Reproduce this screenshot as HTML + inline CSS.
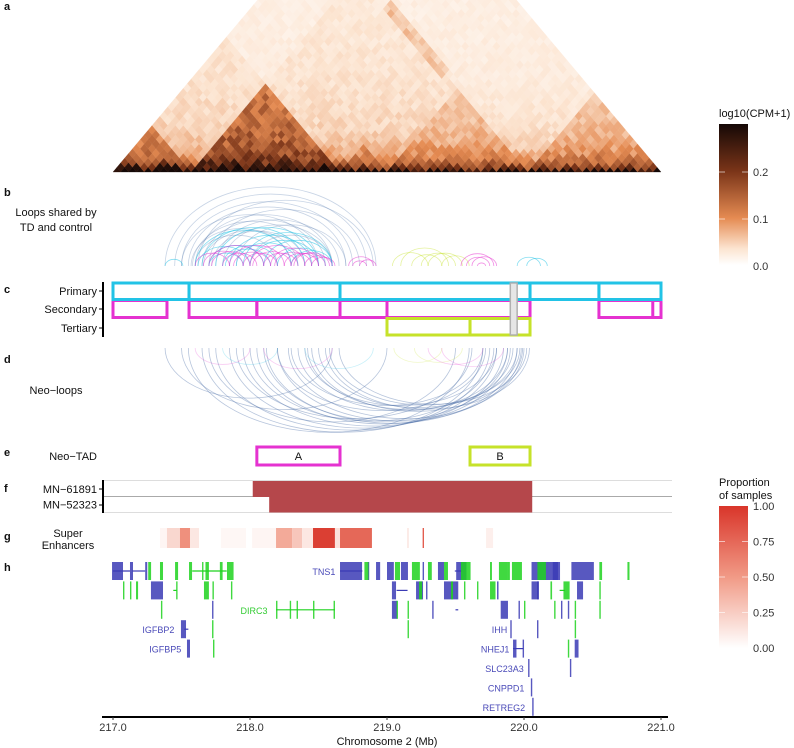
<!DOCTYPE html>
<html><head><meta charset="utf-8"><style>
body{margin:0;background:#fff;}
svg{display:block;font-family:"Liberation Sans",Arial,sans-serif;}
</style></head><body>
<svg id="fig" width="794" height="748" viewBox="0 0 794 748"></svg>
<script>
// ---------- data ----------
const axisTicks=[217,218,219,220,221];
const tickLabels=["217.0","218.0","219.0","220.0","221.0"];
const nBins=70;
const domainStart=[217.0,217.55,218.65,219.0,220.05,217.0,217.55];
const domainEnd  =[217.55,218.65,219.0,220.05,221.0,218.65,220.05];
const domainBoost=[0.06,0.085,0.03,0.02,0.03,0.012,0.01];
const stripeAnchor=[220.03];const stripeFrom=[218.0];const stripeTo=[218.85];const stripeBoost=[0.03];
// loops shared (b): start, end (Mb), category
const loopStart=[217.38,217.45,217.5,217.55,217.6,217.62,217.7,217.5,217.58,217.65,217.75,217.8,217.57,217.9,218.0,217.6,217.66,217.72,
 217.6,217.65,217.7,217.75,217.8,217.85,217.9,217.95,218.0,218.1,218.2,217.62,217.7,217.82,218.3,217.38,
 217.6,217.66,217.72,217.8,217.88,217.95,218.02,218.1,218.18,218.25,218.32,218.4,218.45,217.7,217.85,218.0,218.15,218.3,218.72,218.75,218.8,
 219.04,219.1,219.18,219.25,219.3,219.4,
 219.54,219.58,219.62,219.66,
 219.95,220.02];
const loopEnd=[218.92,218.85,218.75,218.7,218.6,218.9,218.8,218.5,218.45,218.55,218.65,218.6,218.3,218.7,218.6,218.2,218.35,218.4,
 218.3,218.4,218.1,218.5,218.2,218.45,218.35,218.6,218.5,218.6,218.55,218.0,217.95,218.15,218.6,217.51,
 217.85,217.95,218.0,218.05,218.15,218.2,218.3,218.35,218.45,218.5,218.58,218.6,218.62,218.1,218.25,218.4,218.5,218.55,218.9,218.85,218.92,
 219.3,219.45,219.4,219.5,219.55,219.6,
 219.78,219.75,219.8,219.72,
 220.12,220.17];
const loopCat=["b","b","b","b","b","b","b","b","b","b","b","b","b","b","b","b","b","b",
 "c","c","c","c","c","c","c","c","c","c","c","c","c","c","c","c",
 "m","m","m","m","m","m","m","m","m","m","m","m","m","m","m","m","m","m","m","m","m",
 "l","l","l","l","l","l",
 "m","m","m","m",
 "c","c"];
// neo-loops (d)
const neoStart=[217.38,217.5,217.55,217.65,217.75,217.85,217.95,218.05,218.12,218.2,218.28,218.35,218.42,218.5,218.58,218.65,218.3,218.4,218.1,218.0,217.7,217.9,218.45,218.55,218.2,
 217.6,217.8,218.1,218.4,219.05,219.2,219.3,219.4];
const neoEnd=[218.6,219.0,219.6,219.7,219.75,219.8,219.85,219.9,219.95,219.98,220.0,219.88,219.92,219.95,219.97,220.02,219.7,219.8,219.88,219.78,219.5,219.62,219.99,220.04,219.72,
 218.0,218.2,218.6,218.9,219.4,219.55,219.7,219.85];
const neoCat=["b","b","b","b","b","b","b","b","b","b","b","b","b","b","b","b","b","b","b","b","b","b","b","b","b",
 "m","c","m","c","l","l","m","m"];
// TAD tiers (c)
const primaryB=[217.0,217.555,218.657,220.044,220.547,221.0];
const secondaryS=[217.0,217.555,218.05,218.657,219.0,220.547,220.94];
const secondaryE=[217.394,218.05,218.657,219.0,220.044,221.0,221.0];
const tertiaryB=[219.0,219.606,220.044];
const greyBand=[219.9,219.95];
const neoTadStart=[218.05,219.606];const neoTadEnd=[218.657,220.044];const neoTadName=["A","B"];const neoTadCat=["m","l"];
const svStart=[218.02,218.14];const svEnd=[220.06,220.06];const svName=["MN\u221261891","MN\u221252323"];
// super enhancers (g)
const seStart=[217.343,217.394,217.489,217.562,217.788,218.015,218.19,218.307,218.38,218.46,218.62,218.657,219.146,219.26,219.723];
const seEnd  =[217.394,217.489,217.562,217.628,217.971,218.19,218.307,218.38,218.46,218.62,218.657,218.89,219.16,219.27,219.774];
const seVal  =[0.05,0.2,0.55,0.12,0.04,0.05,0.42,0.28,0.12,0.95,0.15,0.75,0.1,0.8,0.08];
// genes (h): exon blocks
const exS=[216.993,217.124,217.235,217.257,217.343,217.453,217.555,217.675,217.78,217.832,217.65,218.657,218.86,218.835,218.92,
 219.0,219.058,219.102,219.182,219.26,219.299,219.372,219.416,219.505,219.54,219.752,219.817,219.883,219.912,220.055,220.098,220.21,220.346,220.55,220.755,
 217.073,217.124,217.168,217.277,217.461,217.664,217.726,217.861,219.036,219.212,219.234,219.285,219.416,219.467,219.51,219.562,219.657,219.752,219.803,220.055,220.095,220.193,220.288,220.387,220.55,
 217.35,217.723,218.19,218.29,218.34,218.46,218.61,219.036,219.07,219.15,219.33,219.83,219.96,220.0,220.22,220.27,220.32,220.37,220.55,
 217.496,217.723,219.15,219.9,220.095,220.37,
 217.54,217.73,219.92,219.99,220.32,220.37,
 220.03,220.335,220.05,220.06];
const exE=[217.073,217.146,217.25,217.278,217.365,217.475,217.577,217.7,217.8,217.88,217.66,218.818,218.84,218.865,218.95,
 219.05,219.095,219.153,219.24,219.27,219.327,219.416,219.445,219.58,219.61,219.766,219.883,219.897,219.985,220.248,220.16,220.263,220.51,220.57,220.77,
 217.08,217.131,217.183,217.365,217.468,217.7,217.733,217.868,219.066,219.263,219.256,219.291,219.511,219.482,219.517,219.569,219.664,219.792,219.814,220.109,220.106,220.205,220.333,220.431,220.56,
 217.357,217.73,218.2,218.3,218.35,218.47,218.62,219.073,219.077,219.158,219.34,219.883,219.968,220.005,220.227,220.28,220.327,220.377,220.56,
 217.533,217.733,219.158,219.91,220.103,220.378,
 217.562,217.737,219.945,220.0,220.327,220.398,
 220.04,220.345,220.058,220.068];
const exRow=[1,1,1,1,1,1,1,1,1,1,1,1,1,1,1,1,1,1,1,1,1,1,1,1,1,1,1,1,1,1,1,1,1,1,1,
 2,2,2,2,2,2,2,2,2,2,2,2,2,2,2,2,2,2,2,2,2,2,2,2,2,
 3,3,3,3,3,3,3,3,3,3,3,3,3,3,3,3,3,3,3,
 4,4,4,4,4,4,
 5,5,5,5,5,5,
 6,6,7,8];
const exCol=["B","B","B","G","G","G","G","G","G","G","G","B","B","G","B",
 "B","G","B","G","B","G","B","G","B","G","G","G","G","G","B","G","B","B","G","G",
 "G","G","G","B","G","G","G","G","B","B","G","B","B","G","B","G","G","G","B","B","B","G","G","B","G",
 "G","B","G","G","G","G","G","B","G","G","B","B","B","G","G","B","B","G","G",
 "B","G","G","B","B","G",
 "B","G","B","B","G","B",
 "B","B","B","B"];
// introns
const inS=[217.0,217.14,217.578,218.657,219.495,217.44,219.07,218.19,219.5,217.52,219.92,220.26];
const inE=[217.124,217.235,217.83,218.82,219.55,217.465,219.15,218.62,219.52,217.55,219.995,220.3];
const inRow=[1,1,1,1,1,2,2,3,3,4,5,2];
const inCol=["B","B","G","B","B","G","B","G","B","B","B","G"];
const geneLabel=["TNS1","DIRC3","IGFBP2","IGFBP5","IHH","NHEJ1","SLC23A3","CNPPD1","RETREG2"];
const labelPos=[218.645,218.15,217.47,217.52,219.9,219.915,220.02,220.025,220.03];
const labelRow=[1,3,4,5,4,5,6,7,8];
const labelCol=["B","G","B","B","B","B","B","B","B"];

// ---------- helpers ----------
const NS="http://www.w3.org/2000/svg";
const svg=document.getElementById('fig');
const X0=113,PX=137;
function xs(mb){return X0+(mb-217)*PX;}
function mk(tag,attrs,parent){const e=document.createElementNS(NS,tag);for(const k in attrs)e.setAttribute(k,attrs[k]);(parent||svg).appendChild(e);return e;}
function txt(s,x,y,o,parent){const t=mk('text',Object.assign({x:x,y:y,'font-size':11,fill:'#111'},o||{}),parent);t.textContent=s;return t;}
const COL={b:'#4a6fa8',c:'#22c3e6',m:'#e532d0',l:'#c6e22a'};
const GC={B:'#3b3bb5',G:'#1fd21f'};
function lerp(a,b,t){return a+(b-a)*t;}
function hex(c){return [parseInt(c.substr(1,2),16),parseInt(c.substr(3,2),16),parseInt(c.substr(5,2),16)];}
function ramp(stops,v){if(v<=stops[0][0])return stops[0][1];for(let i=1;i<stops.length;i++){if(v<=stops[i][0]){const t=(v-stops[i-1][0])/(stops[i][0]-stops[i-1][0]);const a=hex(stops[i-1][1]),b=hex(stops[i][1]);return 'rgb('+a.map((q,k)=>Math.round(lerp(q,b[k],t))).join(',')+')';}}return stops[stops.length-1][1];}
const heatStops=[[0,'#ffffff'],[0.035,'#fce4d0'],[0.1,'#e58b52'],[0.2,'#7a3418'],[0.3,'#150806']];
const seStops=[[0,'#ffffff'],[0.5,'#f19a86'],[1,'#d9352a']];

// ---------- panel a: heatmap ----------
const gA=mk('g',{});
const BASE=172,W=548/nBins,F=1.19;
function pt(a,b){return [X0+(a+b)/2*W, BASE-(b-a)/2*W*F];}
function binMb(i){return 217+(i+0.5)*4/nBins;}
function hash(i,j){let h=(i*374761393+j*668265263)|0;h=(h^(h>>>13))*1274126177|0;return ((h^(h>>>16))>>>0)/4294967295;}
for(let i=0;i<nBins;i++){for(let j=i;j<nBins;j++){
 const d=j-i,mi=binMb(i),mj=binMb(j);
 let v=0.018+0.28/Math.pow(1+0.6*d,1.4);
 for(let k=0;k<domainStart.length;k++){if(mi>=domainStart[k]&&mj<=domainEnd[k])v+=domainBoost[k]*(1-0.4*d/nBins);}
 for(let k=0;k<stripeAnchor.length;k++){if(Math.abs(mj-stripeAnchor[k])<0.06&&mi>=stripeFrom[k]&&mi<=stripeTo[k])v+=stripeBoost[k];}
 v*=0.75+0.5*hash(i,j);
 let p;
 if(d===0){p=[pt(i,i),pt(i,i+1),pt(i+1,i+1)];}else{p=[pt(i,j),pt(i,j+1),pt(i+1,j+1),pt(i+1,j)];}
 const c=mk('polygon',{points:p.map(q=>q[0].toFixed(2)+','+q[1].toFixed(2)).join(' '),fill:ramp(heatStops,v),stroke:ramp(heatStops,v),'stroke-width':0.3},gA);
 
 
}}

// ---------- arcs ----------
function arc(x1,x2,base,k,up,col,op,sw,parent){const rx=(x2-x1)/2,ry=rx*k;const p=mk('path',{d:`M${x1},${base} A${rx},${ry} 0 0 ${up?1:0} ${x2},${base}`,fill:'none',stroke:col,'stroke-opacity':op,'stroke-width':sw},parent);return p;}
const gB=mk('g',{});
for(let i=0;i<loopStart.length;i++){const c=loopCat[i];const a=arc(xs(loopStart[i]),xs(loopEnd[i]),266,0.75,true,COL[c],c==='b'?0.3:(c==='l'?0.45:0.55),0.8,gB);
 
 }
const gD=mk('g',{});
for(let i=0;i<neoStart.length;i++){const c=neoCat[i];const a=arc(xs(neoStart[i]),xs(neoEnd[i]),348,0.6,false,COL[c],c==='b'?0.4:0.25,0.8,gD);
 
 }

// ---------- panel c ----------
const gC=mk('g',{});
function box(s,e,y0,y1,col,parent,name){const r=mk('rect',{x:xs(s),y:y0,width:xs(e)-xs(s),height:y1-y0,fill:'none',stroke:col,'stroke-width':3},parent);return r;}
for(let i=0;i<secondaryS.length;i++)box(secondaryS[i],secondaryE[i],300.5,317.5,COL.m,gC,'secondary-tad');
for(let i=0;i<tertiaryB.length-1;i++)box(tertiaryB[i],tertiaryB[i+1],318.5,335,COL.l,gC,'tertiary-tad');
for(let i=0;i<primaryB.length-1;i++)box(primaryB[i],primaryB[i+1],283,299.5,COL.c,gC,'primary-tad');
const gb=mk('rect',{x:xs(greyBand[0]),y:283,width:xs(greyBand[1])-xs(greyBand[0]),height:52,fill:'#e6e6e6',stroke:'#b0b0b0','stroke-width':1.5},gC);

mk('line',{x1:103,y1:282,x2:103,y2:337,stroke:'#000','stroke-width':2},gC);
[291,309,328].forEach(y=>mk('line',{x1:99,y1:y,x2:103,y2:y,stroke:'#000','stroke-width':1},gC));
txt('Primary',97,295,{'text-anchor':'end'},gC);txt('Secondary',97,313,{'text-anchor':'end'},gC);txt('Tertiary',97,332,{'text-anchor':'end'},gC);

// ---------- panel e ----------
const gE=mk('g',{});
for(let i=0;i<neoTadStart.length;i++){box(neoTadStart[i],neoTadEnd[i],447,465,COL[neoTadCat[i]],gE,'neo-tad-'+neoTadName[i]);
 txt(neoTadName[i],(xs(neoTadStart[i])+xs(neoTadEnd[i]))/2,460,{'text-anchor':'middle'},gE);}
txt('Neo\u2212TAD',97,460,{'text-anchor':'end'},gE);

// ---------- panel f ----------
const gF=mk('g',{});
mk('line',{x1:103,y1:480.5,x2:672,y2:480.5,stroke:'#ddd'},gF);
mk('line',{x1:103,y1:496.5,x2:672,y2:496.5,stroke:'#aaa'},gF);
mk('line',{x1:103,y1:512.5,x2:672,y2:512.5,stroke:'#ddd'},gF);
for(let i=0;i<svStart.length;i++){const y0=481+i*15.5;const r=mk('rect',{x:xs(svStart[i]),y:y0,width:xs(svEnd[i])-xs(svStart[i]),height:16,fill:'#b5474b'},gF);
 
 txt(svName[i],97,y0+12,{'text-anchor':'end'},gF);}
mk('line',{x1:103,y1:480,x2:103,y2:513,stroke:'#000','stroke-width':2},gF);
[489,505].forEach(y=>mk('line',{x1:99,y1:y,x2:103,y2:y,stroke:'#000'},gF));

// ---------- panel g ----------
const gG=mk('g',{});
for(let i=0;i<seStart.length;i++){const r=mk('rect',{x:xs(seStart[i]),y:528,width:Math.max(1,xs(seEnd[i])-xs(seStart[i])),height:20,fill:ramp(seStops,seVal[i])},gG);
 }
txt('Super',68,537,{'text-anchor':'middle'},gG);txt('Enhancers',68,549,{'text-anchor':'middle'},gG);

// ---------- panel h ----------
const gH=mk('g',{});
function rowY(r){return 571+(r-1)*19.4;}
for(let i=0;i<inS.length;i++){const y=rowY(inRow[i]);mk('line',{x1:xs(inS[i]),y1:y,x2:xs(inE[i]),y2:y,stroke:GC[inCol[i]],'stroke-width':1.2},gH);}
for(let i=0;i<exS.length;i++){const y=rowY(exRow[i]);const r=mk('rect',{x:xs(exS[i]),y:y-9,width:Math.max(1.4,xs(exE[i])-xs(exS[i])),height:18,fill:GC[exCol[i]],'fill-opacity':0.85},gH);
 }
for(let i=0;i<geneLabel.length;i++){const t=txt(geneLabel[i],xs(labelPos[i])-3,rowY(labelRow[i])+4,{'text-anchor':'end','font-size':9,fill:labelCol[i]==='B'?'#4a4ab8':'#33cc33'},gH);
 }

// ---------- x axis ----------
const gX=mk('g',{});
mk('line',{x1:102,y1:717,x2:668,y2:717,stroke:'#000','stroke-width':2},gX);
for(let i=0;i<axisTicks.length;i++){const x=xs(axisTicks[i]);mk('line',{x1:x,y1:717,x2:x,y2:720,stroke:'#333'},gX);txt(tickLabels[i],x,731,{'text-anchor':'middle','font-size':11,fill:'#333'},gX);}
const xt=txt('Chromosome 2 (Mb)',387,745,{'text-anchor':'middle','font-size':11});

// ---------- panel labels ----------
[['a',10],['b',196],['c',293],['d',363],['e',456],['f',492],['g',540],['h',571]].forEach(p=>{const t=txt(p[0],4,p[1],{'font-weight':'bold','font-size':11});});
txt('Loops shared by',56,216,{'text-anchor':'middle'});txt('TD and control',56,231,{'text-anchor':'middle'});
txt('Neo\u2212loops',56,394,{'text-anchor':'middle'});

// ---------- legends ----------
const defs=mk('defs',{});
const lg1=mk('linearGradient',{id:'g1',x1:0,y1:1,x2:0,y2:0},defs);
[[0,'#ffffff'],[0.117,'#fce4d0'],[0.333,'#e58b52'],[0.667,'#7a3418'],[1,'#150806']].forEach(s=>mk('stop',{offset:s[0],'stop-color':s[1]},lg1));
const lg2=mk('linearGradient',{id:'g2',x1:0,y1:1,x2:0,y2:0},defs);
seStops.forEach(s=>mk('stop',{offset:s[0],'stop-color':s[1]},lg2));
const L1=mk('g',{});
txt('log10(CPM+1)',719,117,{},L1);
mk('rect',{x:719,y:124,width:29,height:141,fill:'url(#g1)'},L1);
[[0.2,172],[0.1,219],[0.0,266]].forEach(t=>{if(t[0]>0){mk('line',{x1:719,y1:t[1],x2:725,y2:t[1],stroke:'#fff','stroke-opacity':0.6},L1);mk('line',{x1:742,y1:t[1],x2:748,y2:t[1],stroke:'#fff','stroke-opacity':0.6},L1);}txt(t[0].toFixed(1),753,t[1]+4,{fill:'#333'},L1);});
const L2=mk('g',{});
txt('Proportion',719,486,{},L2);txt('of samples',719,499,{},L2);
mk('rect',{x:719,y:506,width:29,height:142,fill:'url(#g2)'},L2);
[[1,506],[0.75,541.5],[0.5,577],[0.25,612.5],[0,648]].forEach(t=>{if(t[0]>0&&t[0]<1){mk('line',{x1:719,y1:t[1],x2:725,y2:t[1],stroke:'#fff','stroke-opacity':0.6},L2);mk('line',{x1:742,y1:t[1],x2:748,y2:t[1],stroke:'#fff','stroke-opacity':0.6},L2);}txt(t[0].toFixed(2),753,t[1]+4,{fill:'#333'},L2);});
</script>
</body></html>
